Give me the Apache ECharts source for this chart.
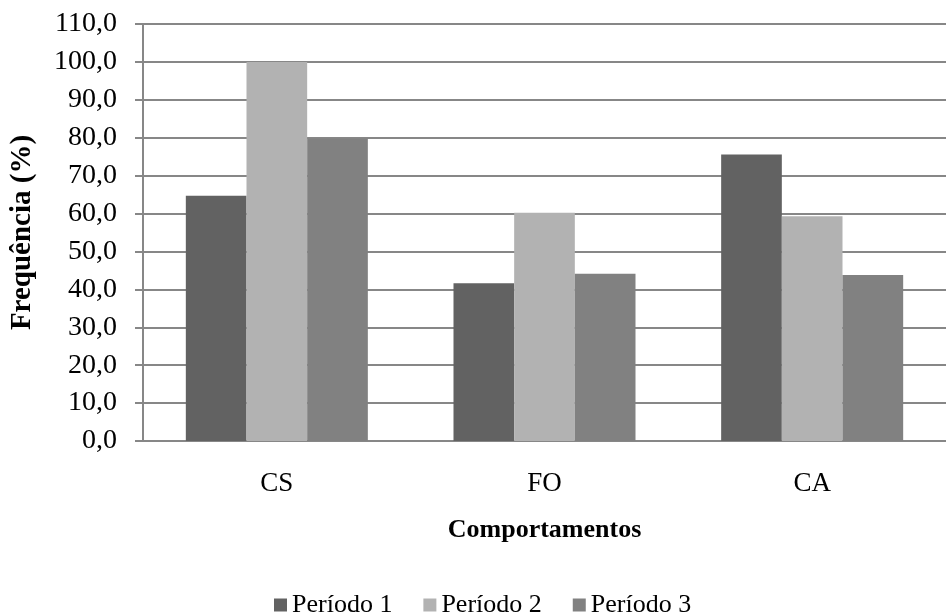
<!DOCTYPE html>
<html>
<head>
<meta charset="utf-8">
<script src="https://cdn.jsdelivr.net/npm/echarts@6/dist/echarts.min.js"></script>
<style>
html,body{margin:0;padding:0;background:#fff;}
#c{width:946px;height:614px;}
</style>
</head>
<body>
<div id="c"></div>
<script>
const categories = ['CS', 'FO', 'CA'];
const seriesNames = ['Período 1', 'Período 2', 'Período 3'];
const periodo1 = [64.7, 41.6, 75.6];
const periodo2 = [100.0, 60.2, 59.3];
const periodo3 = [79.8, 44.1, 43.8];
const colors = ['#626262', '#b2b2b2', '#818181'];
const yMin = 0, yMax = 110, yStep = 10;

const font = 'Liberation Serif';
const chart = echarts.init(document.getElementById('c'));
const values = [periodo1, periodo2, periodo3];
chart.setOption({
  animation: false,
  backgroundColor: '#ffffff',
  grid: { left: 140, right: 0, top: 24, bottom: 173, containLabel: false },
  legend: {
    bottom: -9,
    left: 269,
    itemWidth: 13,
    itemHeight: 13,
    itemGap: 31,
    icon: 'rect',
    textStyle: { fontFamily: font, fontSize: 26, color: '#000', padding: [0, 0, 0, 0] },
    data: seriesNames
  },
  xAxis: {
    type: 'category',
    data: categories,
    name: 'Comportamentos',
    nameLocation: 'middle',
    nameGap: 76,
    nameTextStyle: { fontFamily: font, fontSize: 26, fontWeight: 'bold', color: '#000' },
    axisLine: { show: true, lineStyle: { color: '#878787', width: 2 } },
    axisTick: { show: false },
    axisLabel: { fontFamily: font, fontSize: 27, color: '#000', margin: 29 }
  },
  yAxis: {
    type: 'value',
    min: yMin, max: yMax, interval: yStep,
    name: 'Frequência (%)',
    nameLocation: 'middle',
    nameRotate: 90,
    nameGap: 106,
    nameTextStyle: { fontFamily: font, fontSize: 29, fontWeight: 'bold', color: '#000' },
    axisLine: { show: true, lineStyle: { color: '#878787', width: 2 } },
    axisTick: { show: true, length: 8, lineStyle: { color: '#878787', width: 2 } },
    axisLabel: {
      fontFamily: font, fontSize: 28, color: '#000', margin: 26,
      formatter: v => v.toFixed(1).replace('.', ',')
    },
    splitLine: { show: true, lineStyle: { color: '#878787', width: 2 } }
  },
  series: seriesNames.map((n, i) => ({
    name: n,
    type: 'bar',
    data: values[i],
    barGap: '0%',
    barCategoryGap: '32%',
    itemStyle: { color: colors[i] }
  }))
});
</script>
</body>
</html>
